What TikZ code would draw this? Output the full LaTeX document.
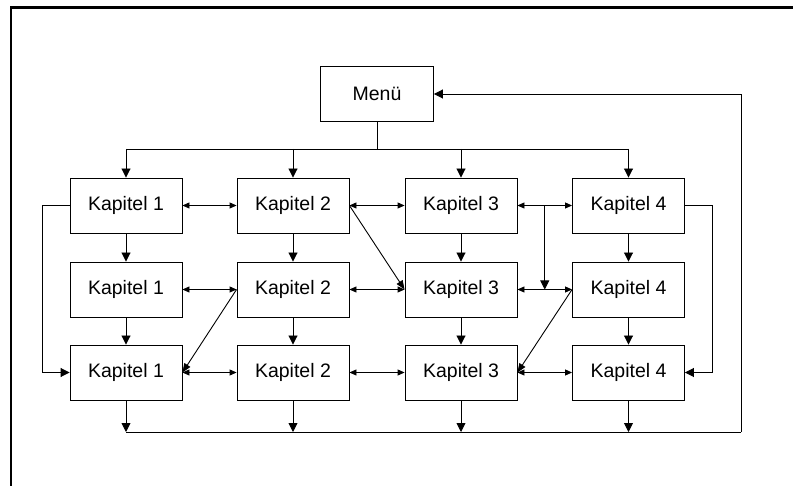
\documentclass[tikz,border=0pt]{standalone}
\usepackage{fontspec}
\setmainfont{Liberation Sans}
\usetikzlibrary{arrows.meta,calc}

\tikzset{
  box/.style={draw, line width=0.9pt, minimum width=112pt, minimum height=55pt,
              inner sep=0pt, font=\fontsize{19.5}{21}\selectfont},
  link/.style={line width=0.9pt},
  bigarrow/.style={link, -{Triangle[length=9pt,width=9pt]}},
  diagarrow/.style={link, -{Triangle[length=9pt,width=7pt]}},
  twoway/.style={link, {Triangle[length=7pt,width=6pt]}-{Triangle[length=7pt,width=6pt]}},
  frame/.style={line width=2.5pt}
}

\begin{document}
\begin{tikzpicture}[x=1pt,y=-1pt]
\useasboundingbox (0,0) rectangle (793,486);

% page frame
\draw[frame] (11,486) -- (11,7.5) -- (793,7.5);

% menu box
\node[box, minimum width=113pt] (menu) at (377,94) {Menü};

% chapter grid: k<row><column>
\foreach \r/\y in {1/205.5, 2/289.5, 3/372.5}{
  \foreach \c/\x in {1/126, 2/293, 3/461, 4/628.5}{
    \node[box] (k\r\c) at (\x,\y) {Kapitel \c};
  }
}

% distribution line from the menu
\coordinate (top) at (377,149);
\draw[link] (menu.south) -- (top);
\draw[link] (k11.north |- top) -- (k14.north |- top);
\foreach \c in {1,2,3,4}{
  \draw[bigarrow] (k1\c.north |- top) -- (k1\c.north);
}

% downward arrows within each column
\foreach \c in {1,2,3,4}{
  \draw[bigarrow] (k1\c.south) -- (k2\c.north);
  \draw[bigarrow] (k2\c.south) -- (k3\c.north);
}

% links between neighbouring chapters
\foreach \r in {1,2,3}{
  \draw[twoway] (k\r1.east) -- (k\r2.west);
  \draw[twoway] (k\r2.east) -- (k\r3.west);
  \draw[twoway] (k\r3.east) -- (k\r4.west);
}

% return path to the menu
\coordinate (bot) at (377,432);
\coordinate (rgt) at (741,432);
\foreach \c in {1,2,3,4}{
  \draw[bigarrow] (k3\c.south) -- (k3\c.south |- bot);
}
\draw[link] (k31.south |- bot) -- (rgt);
\draw[bigarrow] (rgt) -- (rgt |- menu.east) -- (menu.east);

% side shortcuts from first to last row
\draw[bigarrow] (k11.west) -- ++(-27,0) |- (k31.west);
\draw[bigarrow] (k14.east) -- ++(27,0) |- (k34.east);

% diagonal links
\draw[diagarrow] (k12.east) -- (k23.west);
\draw[diagarrow] (k22.west) -- (k31.east);
\draw[diagarrow] (k24.west) -- (k33.east);

% branch from the upper link between 3 and 4 down to the middle one
\draw[bigarrow] ($(k13.east)!0.5!(k14.west)$) -- ($(k23.east)!0.5!(k24.west)$);
\end{tikzpicture}
\end{document}
